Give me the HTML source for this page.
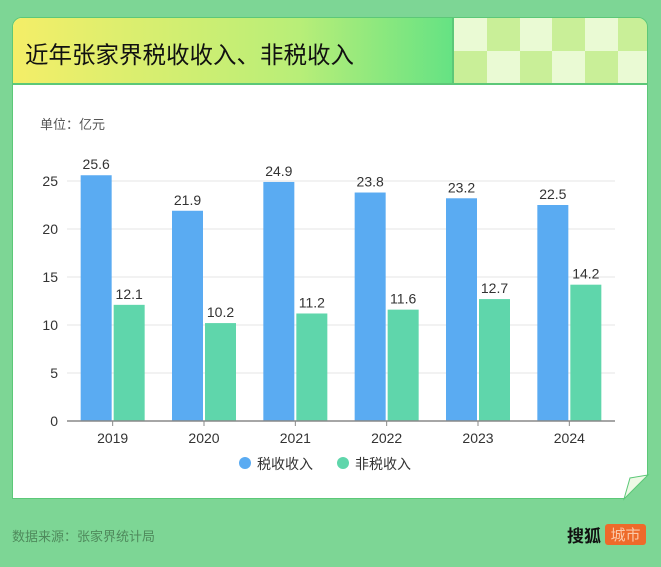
<!DOCTYPE html>
<html><head><meta charset="utf-8"><style>
body{margin:0;width:661px;height:567px;background:#7dd695;font-family:"Liberation Sans","Noto Sans CJK SC",sans-serif;position:relative;overflow:hidden}
.card{position:absolute;left:12px;top:17px;width:636px;height:482px;background:#fff;border-radius:10px 10px 0 0;border:1px solid #5cc878;box-sizing:border-box;overflow:hidden}
.hdr{position:absolute;left:0;top:0;width:636px;height:67px;background:linear-gradient(90deg,#f4ee68,#b8ee78 45%,#62e284 70%);border-bottom:2px solid #5cc878;box-sizing:border-box}
.title{position:absolute;left:12px;top:18px;font-size:23.5px;color:#111}
.chk{position:absolute;left:439px;top:0;width:197px;height:65px;display:grid;grid-template-columns:repeat(6,1fr);grid-template-rows:1fr 1fr;border-left:2px solid #5cc878}
.chk div:nth-child(odd){background:#eafad4}.chk div:nth-child(even){background:#c9ef98}
.chk div:nth-child(n+7):nth-child(odd){background:#c9ef98}.chk div:nth-child(n+7):nth-child(even){background:#eafad4}
</style></head><body>
<div class="card">
<div class="hdr">
<div class="title">近年张家界税收收入、非税收入</div>
<div class="chk"><div></div><div></div><div></div><div></div><div></div><div></div><div></div><div></div><div></div><div></div><div></div><div></div></div>
</div>
</div>
<svg width="661" height="567" style="position:absolute;left:0;top:0" id="ch">
<text x="40" y="129" font-size="13" fill="#555">单位：亿元</text>
<polygon points="624,499 648,475 648,499" fill="#7dd695"/>
<polygon points="624,499 630,478 648,475" fill="#eef9e6" stroke="#5cc878"/>
<g id="plot"></g>
<circle cx="245" cy="463" r="6" fill="#5aabf2"/>
<text x="257" y="469" font-size="14" fill="#333">税收收入</text>
<circle cx="343" cy="463" r="6" fill="#5fd6ab"/>
<text x="355" y="469" font-size="14" fill="#333">非税收入</text>
<text x="12" y="541" font-size="13" fill="#4f8a5c">数据来源：张家界统计局</text>
<text x="567" y="542" font-size="17" font-weight="bold" fill="#111">搜狐</text>
<rect x="605" y="524" width="41" height="21" rx="3" fill="#ee6a2a"/>
<text x="625.5" y="540" font-size="15" fill="#fbc8a8" text-anchor="middle">城市</text>
</svg>
<script>
const years=["2019","2020","2021","2022","2023","2024"];
const tax=[25.6,21.9,24.9,23.8,23.2,22.5];
const nontax=[12.1,10.2,11.2,11.6,12.7,14.2];
const ticks=[0,5,10,15,20,25];
const NS="http://www.w3.org/2000/svg",g=document.getElementById('plot');
const x0=67,x1=615,y0=421,sc=9.6,bw=(x1-x0)/years.length;
const Y=v=>y0-v*sc;
function el(t,a,txt){const e=document.createElementNS(NS,t);for(const k in a)e.setAttribute(k,a[k]);if(txt!=null)e.textContent=txt;g.appendChild(e);return e;}
ticks.forEach(t=>{
 if(t>0){const l=el('line',{x1:x0,x2:x1,y1:Y(t),y2:Y(t),stroke:'#e4e4e4'});
 
 }
 const tx=el('text',{x:58,y:Y(t)+5,'font-size':14,fill:'#333','text-anchor':'end'},t);
 
 
});
years.forEach((yr,i)=>{
 const c=x0+bw*(i+0.5);
 [[tax[i],c-32,'#5aabf2','bar-tax-'+yr],[nontax[i],c+1,'#5fd6ab','bar-nontax-'+yr]].forEach(([v,x,col,nm])=>{
  const r=el('rect',{x:x,y:Y(v),width:31,height:v*sc,fill:col});
  
  
  const t=el('text',{x:x+15.5,y:Y(v)-6,'font-size':14,fill:'#333','text-anchor':'middle'},v.toFixed(1));
  
  
 });
 const tk=el('line',{x1:c,x2:c,y1:y0,y2:y0+5,stroke:'#888'});
 
 
 const xl=el('text',{x:c,y:443,'font-size':14,fill:'#333','text-anchor':'middle'},yr);
 
 
});
const ax=el('line',{x1:x0,x2:x1,y1:y0,y2:y0,stroke:'#888','stroke-width':1.5});


</script>
</body></html>
